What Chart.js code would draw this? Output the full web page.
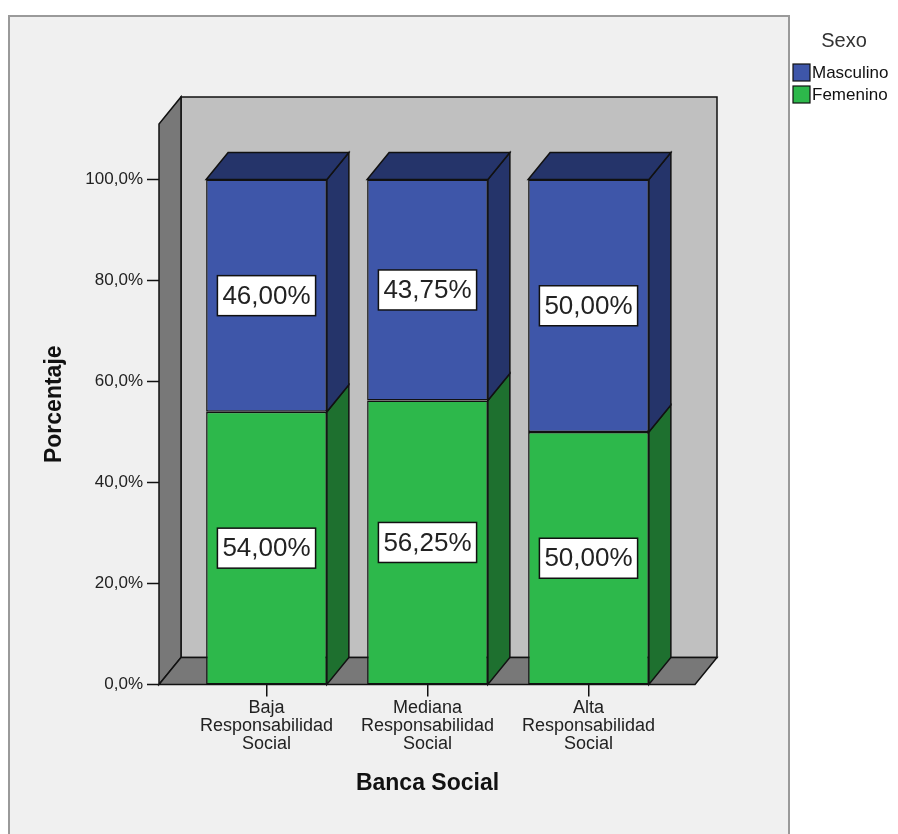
<!DOCTYPE html>
<html><head><meta charset="utf-8">
<script src="https://cdn.jsdelivr.net/npm/chart.js@4.4.1/dist/chart.umd.min.js"></script>
<style>html,body{margin:0;padding:0;background:#fff;}#wrap{width:898px;height:834px;position:relative;}</style>
</head><body><div id="wrap"><canvas id="c" width="898" height="834"></canvas></div>
<script>
// ---- data ----
const categories = [['Baja','Responsabilidad','Social'],['Mediana','Responsabilidad','Social'],['Alta','Responsabilidad','Social']];
const seriesNames = ['Masculino','Femenino'];
const masculino = [46.00, 43.75, 50.00];
const femenino = [54.00, 56.25, 50.00];
const yTicks = [0, 20, 40, 60, 80, 100];
const xTitle = 'Banca Social';
const yTitle = 'Porcentaje';
const legendTitle = 'Sexo';

// ---- style ----
const FONT = '"Liberation Sans", Arial, sans-serif';
const DX = 22, DY = -27;
const COL = {
  blue: '#3e56a9', blueDark: '#25346a',
  green: '#2db84b', greenDark: '#1e702f',
  back: '#c0c0c0', wall: '#787878', frame: '#f0f0f0', line: '#111'
};

function poly(ctx, pts, fill) {
  ctx.beginPath();
  ctx.moveTo(pts[0][0], pts[0][1]);
  for (let i = 1; i < pts.length; i++) ctx.lineTo(pts[i][0], pts[i][1]);
  ctx.closePath();
  ctx.fillStyle = fill; ctx.fill(); ctx.stroke();
}
const fmt = v => v.toFixed(2).replace('.', ',') + '%';

const threeD = {
  id: 'threeD',
  beforeDraw(chart) {
    const ctx = chart.ctx;
    ctx.save();
    ctx.fillStyle = '#fff'; ctx.fillRect(0, 0, chart.width, chart.height);
    ctx.fillStyle = COL.frame; ctx.fillRect(9, 16, 780, 830);
    ctx.strokeStyle = '#9a9a9a'; ctx.lineWidth = 2; ctx.strokeRect(9, 16, 780, 830);
    ctx.restore();
  },
  beforeDatasetsDraw(chart) {
    const { ctx, chartArea: a, scales: { y } } = chart;
    const L = a.left - 27, R = a.right + 26, B = y.getPixelForValue(0), T = y.getPixelForValue(111);
    ctx.save();
    ctx.lineWidth = 1.5; ctx.strokeStyle = COL.line; ctx.lineJoin = 'miter';
    poly(ctx, [[L + DX, T + DY], [R + DX, T + DY], [R + DX, B + DY], [L + DX, B + DY]], COL.back);
    poly(ctx, [[L, B], [L, T], [L + DX, T + DY], [L + DX, B + DY]], COL.wall);
    poly(ctx, [[L, B], [L + DX, B + DY], [R + DX, B + DY], [R, B]], COL.wall);
    yTicks.forEach(v => {
      const py = y.getPixelForValue(v);
      ctx.beginPath(); ctx.moveTo(L - 12, py); ctx.lineTo(L, py); ctx.stroke();
    });
    const n = chart.data.datasets.length;
    chart.data.datasets.forEach((ds, di) => {
      const meta = chart.getDatasetMeta(di);
      meta.data.forEach(bar => {
        const p = bar.getProps(['x', 'y', 'base', 'width'], true);
        const l = p.x - p.width / 2, r = p.x + p.width / 2;
        poly(ctx, [[r, p.y], [r + DX, p.y + DY], [r + DX, p.base + DY], [r, p.base]], ds.sideColor);
        if (di === n - 1) poly(ctx, [[l, p.y], [l + DX, p.y + DY], [r + DX, p.y + DY], [r, p.y]], ds.sideColor);
      });
    });
    ctx.restore();
  },
  afterDatasetsDraw(chart) {
    const ctx = chart.ctx;
    ctx.save();
    ctx.font = '26px ' + FONT;
    ctx.textAlign = 'center'; ctx.textBaseline = 'middle';
    chart.data.datasets.forEach((ds, di) => {
      const meta = chart.getDatasetMeta(di);
      meta.data.forEach((bar, i) => {
        const p = bar.getProps(['x', 'y', 'base'], true);
        const cy = (p.y + p.base) / 2;
        const txt = fmt(ds.data[i]);
        const w = ctx.measureText(txt).width + 10, h = 40;
        ctx.fillStyle = '#fff'; ctx.fillRect(p.x - w / 2, cy - h / 2, w, h);
        ctx.lineWidth = 1.5; ctx.strokeStyle = '#111';
        ctx.strokeRect(p.x - w / 2, cy - h / 2, w, h);
        ctx.fillStyle = '#222'; ctx.fillText(txt, p.x, cy + 1);
      });
    });
    ctx.restore();
  },
  afterDraw(chart) {
    const { ctx, scales: { y } } = chart;
    ctx.save();
    // y title
    const B = y.getPixelForValue(0), T = y.getPixelForValue(111);
    ctx.translate(55, (B + T) / 2); ctx.rotate(-Math.PI / 2);
    ctx.font = 'bold 23px ' + FONT; ctx.fillStyle = '#111';
    ctx.textAlign = 'center'; ctx.textBaseline = 'middle';
    ctx.fillText(yTitle, 0, 0);
    ctx.restore();
    // legend
    ctx.save();
    ctx.font = '20px ' + FONT; ctx.fillStyle = '#333';
    ctx.textAlign = 'center'; ctx.textBaseline = 'middle';
    ctx.fillText(legendTitle, 844, 41);
    const items = [[seriesNames[0], COL.blue], [seriesNames[1], COL.green]];
    ctx.font = '17px ' + FONT; ctx.textAlign = 'left';
    items.forEach((it, i) => {
      const by = 64 + i * 22;
      ctx.fillStyle = it[1]; ctx.fillRect(793, by, 17, 17);
      ctx.lineWidth = 1.2; ctx.strokeStyle = '#111'; ctx.strokeRect(793, by, 17, 17);
      ctx.fillStyle = '#111'; ctx.fillText(it[0], 812, by + 9);
    });
    ctx.restore();
  }
};

new Chart(document.getElementById('c'), {
  type: 'bar',
  data: {
    labels: categories,
    datasets: [
      { label: seriesNames[1], data: femenino, backgroundColor: COL.green, sideColor: COL.greenDark,
        borderColor: COL.line, borderWidth: 1.5, borderSkipped: false, clip: false },
      { label: seriesNames[0], data: masculino, backgroundColor: COL.blue, sideColor: COL.blueDark,
        borderColor: COL.line, borderWidth: 1.5, borderSkipped: false, clip: false }
    ]
  },
  plugins: [threeD],
  options: {
    responsive: false, animation: false, devicePixelRatio: 1,
    layout: { padding: { top: 179.5, right: 229, bottom: 0, left: 0 } },
    plugins: { legend: { display: false }, tooltip: { enabled: false } },
    datasets: { bar: { barPercentage: 0.75, categoryPercentage: 1 } },
    scales: {
      x: {
        stacked: true,
        afterFit(s) { s.height = 834 - 684.5; },
        grid: { display: true, drawOnChartArea: false, drawTicks: true, tickLength: 12, offset: false, color: '#111', lineWidth: 1.5 },
        border: { display: false },
        ticks: { color: '#222', font: { family: FONT, size: 18, lineHeight: 1 }, padding: 3, maxRotation: 0, autoSkip: false },
        title: { display: true, text: xTitle, color: '#111', font: { family: FONT, size: 23, weight: 'bold' }, padding: { top: 0, bottom: 37 } }
      },
      y: {
        stacked: true, min: 0, max: 100,
        afterFit(s) { s.width = 186; },
        afterBuildTicks(s) { s.ticks = yTicks.map(v => ({ value: v })); },
        grid: { display: false, drawTicks: false },
        border: { display: false },
        ticks: { color: '#222', font: { family: FONT, size: 17 }, padding: 43,
          callback: v => v.toFixed(1).replace('.', ',') + '%' }
      }
    }
  }
});
</script>
</body></html>
